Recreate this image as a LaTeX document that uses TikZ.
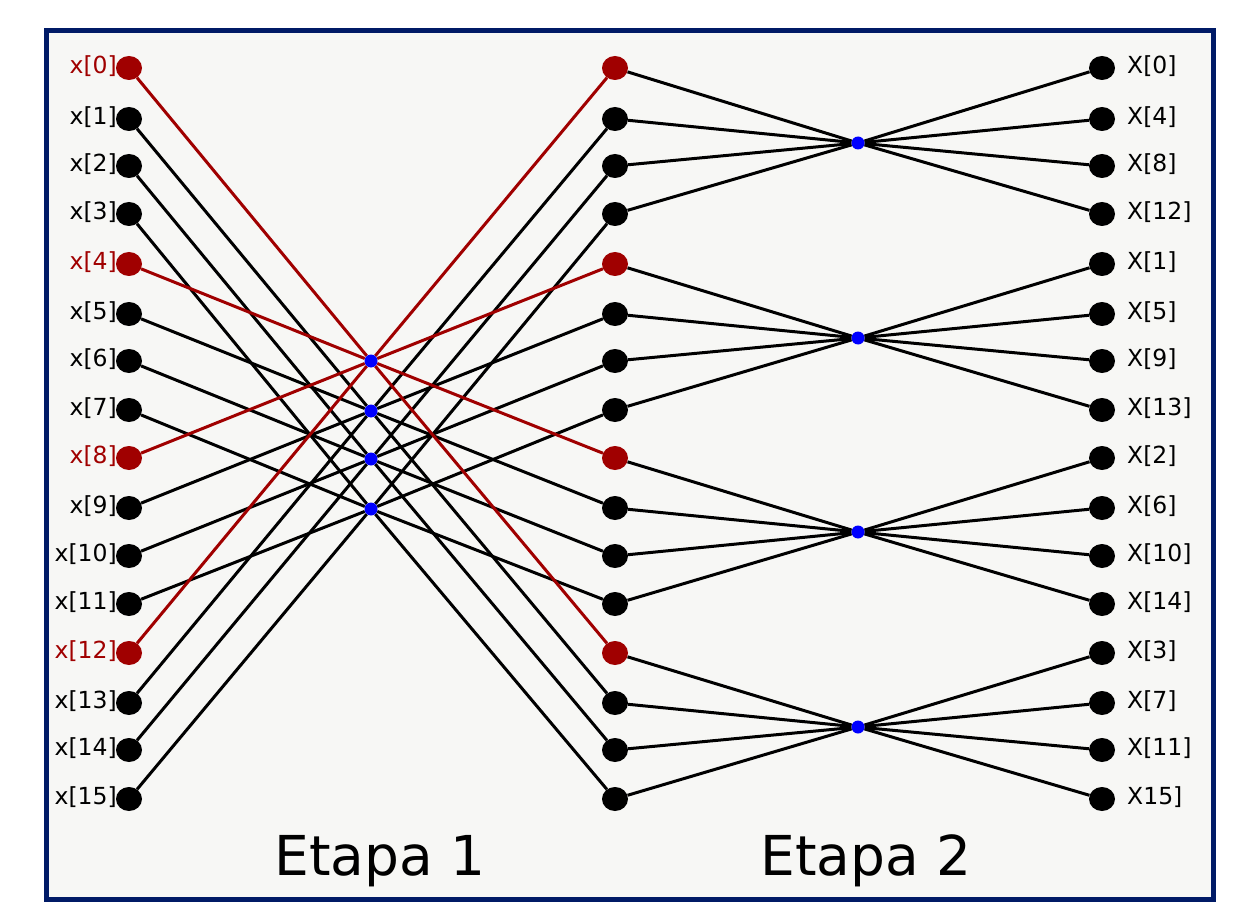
\documentclass[tikz,border=0pt]{standalone}
\usepackage{fontspec}
\setmainfont{DejaVu Sans}
\usetikzlibrary{shapes.geometric}
\definecolor{frame}{RGB}{0,26,102}
\definecolor{bgc}{RGB}{247,247,245}
\definecolor{dred}{RGB}{160,0,0}
\pgfdeclarelayer{back}
\pgfdeclarelayer{lines}
\pgfsetlayers{back,lines,main}
\begin{document}
\begin{tikzpicture}[x=1pt,y=-1pt,
  dot/.style={ellipse, minimum width=26pt, minimum height=24pt, inner sep=0pt, fill=#1, draw=none},
  hub/.style={circle, minimum size=13pt, inner sep=0pt, fill=blue, draw=none},
  wire/.style={line width=3pt, draw=#1},
  lbl/.style={font=\fontsize{23.5}{23.5}\selectfont, inner sep=0pt},
  etapa/.style={font=\fontsize{55}{55}\selectfont, inner sep=0pt}
]
\useasboundingbox (0,0) rectangle (1240,920);
\begin{pgfonlayer}{back}
\draw[frame, line width=5pt, fill=bgc] (46.5,30.5) rectangle (1213.5,899.5);
\end{pgfonlayer}
\def\ys{68,119,166,214,264,314,361,410,458,508,556,604,653,703,750,799}
% dots and left labels
\foreach \y [count=\i from 0] in \ys {
  \pgfmathtruncatemacro\r{mod(\i,4)}
  \ifnum\r=0 \def\c{dred}\else\def\c{black}\fi
  \node[dot=\c] (L\i) at (129,\y) {};
  \node[dot=\c] (M\i) at (615,\y) {};
  \node[dot=black] (R\i) at (1102,\y) {};
  \node[lbl, anchor=east, text=\c] (lx\i) at (117,\y-2) {x[\i]};
}
% right labels
\foreach \lab [count=\i from 0] in {X[0],X[4],X[8],X[12],X[1],X[5],X[9],X[13],X[2],X[6],X[10],X[14],X[3],X[7],X[11],X15]} {
  \node[lbl, anchor=west] (rx\i) at ([shift={(25,-2)}]R\i.center) {\lab};
}
% hubs
\foreach \k/\yc in {0/361,1/411,2/459,3/509} {
  \node[hub] (C\k) at (371,\yc) {};
}
\foreach \g/\yc in {0/143,1/338,2/532,3/727} {
  \node[hub] (D\g) at (858,\yc) {};
}
% wires
\begin{pgfonlayer}{lines}
\foreach \k/\col in {1/black,2/black,3/black,0/dred} {
  \foreach \m in {0,...,3} {
    \pgfmathtruncatemacro\a{\k+4*\m}
    \pgfmathtruncatemacro\b{\k+4*(3-\m)}
    \draw[wire=\col] (L\a) -- (C\k) -- (M\b);
  }
}
\foreach \g in {0,...,3} {
  \foreach \j in {0,...,3} {
    \pgfmathtruncatemacro\a{4*\g+\j}
    \draw[wire=black] (M\a) -- (D\g) -- (R\a);
  }
}
\end{pgfonlayer}
\node[etapa, anchor=base] (e1) at (380,875) {Etapa 1};
\node[etapa, anchor=base] (e2) at (866,875) {Etapa 2};
\end{tikzpicture}
\end{document}
